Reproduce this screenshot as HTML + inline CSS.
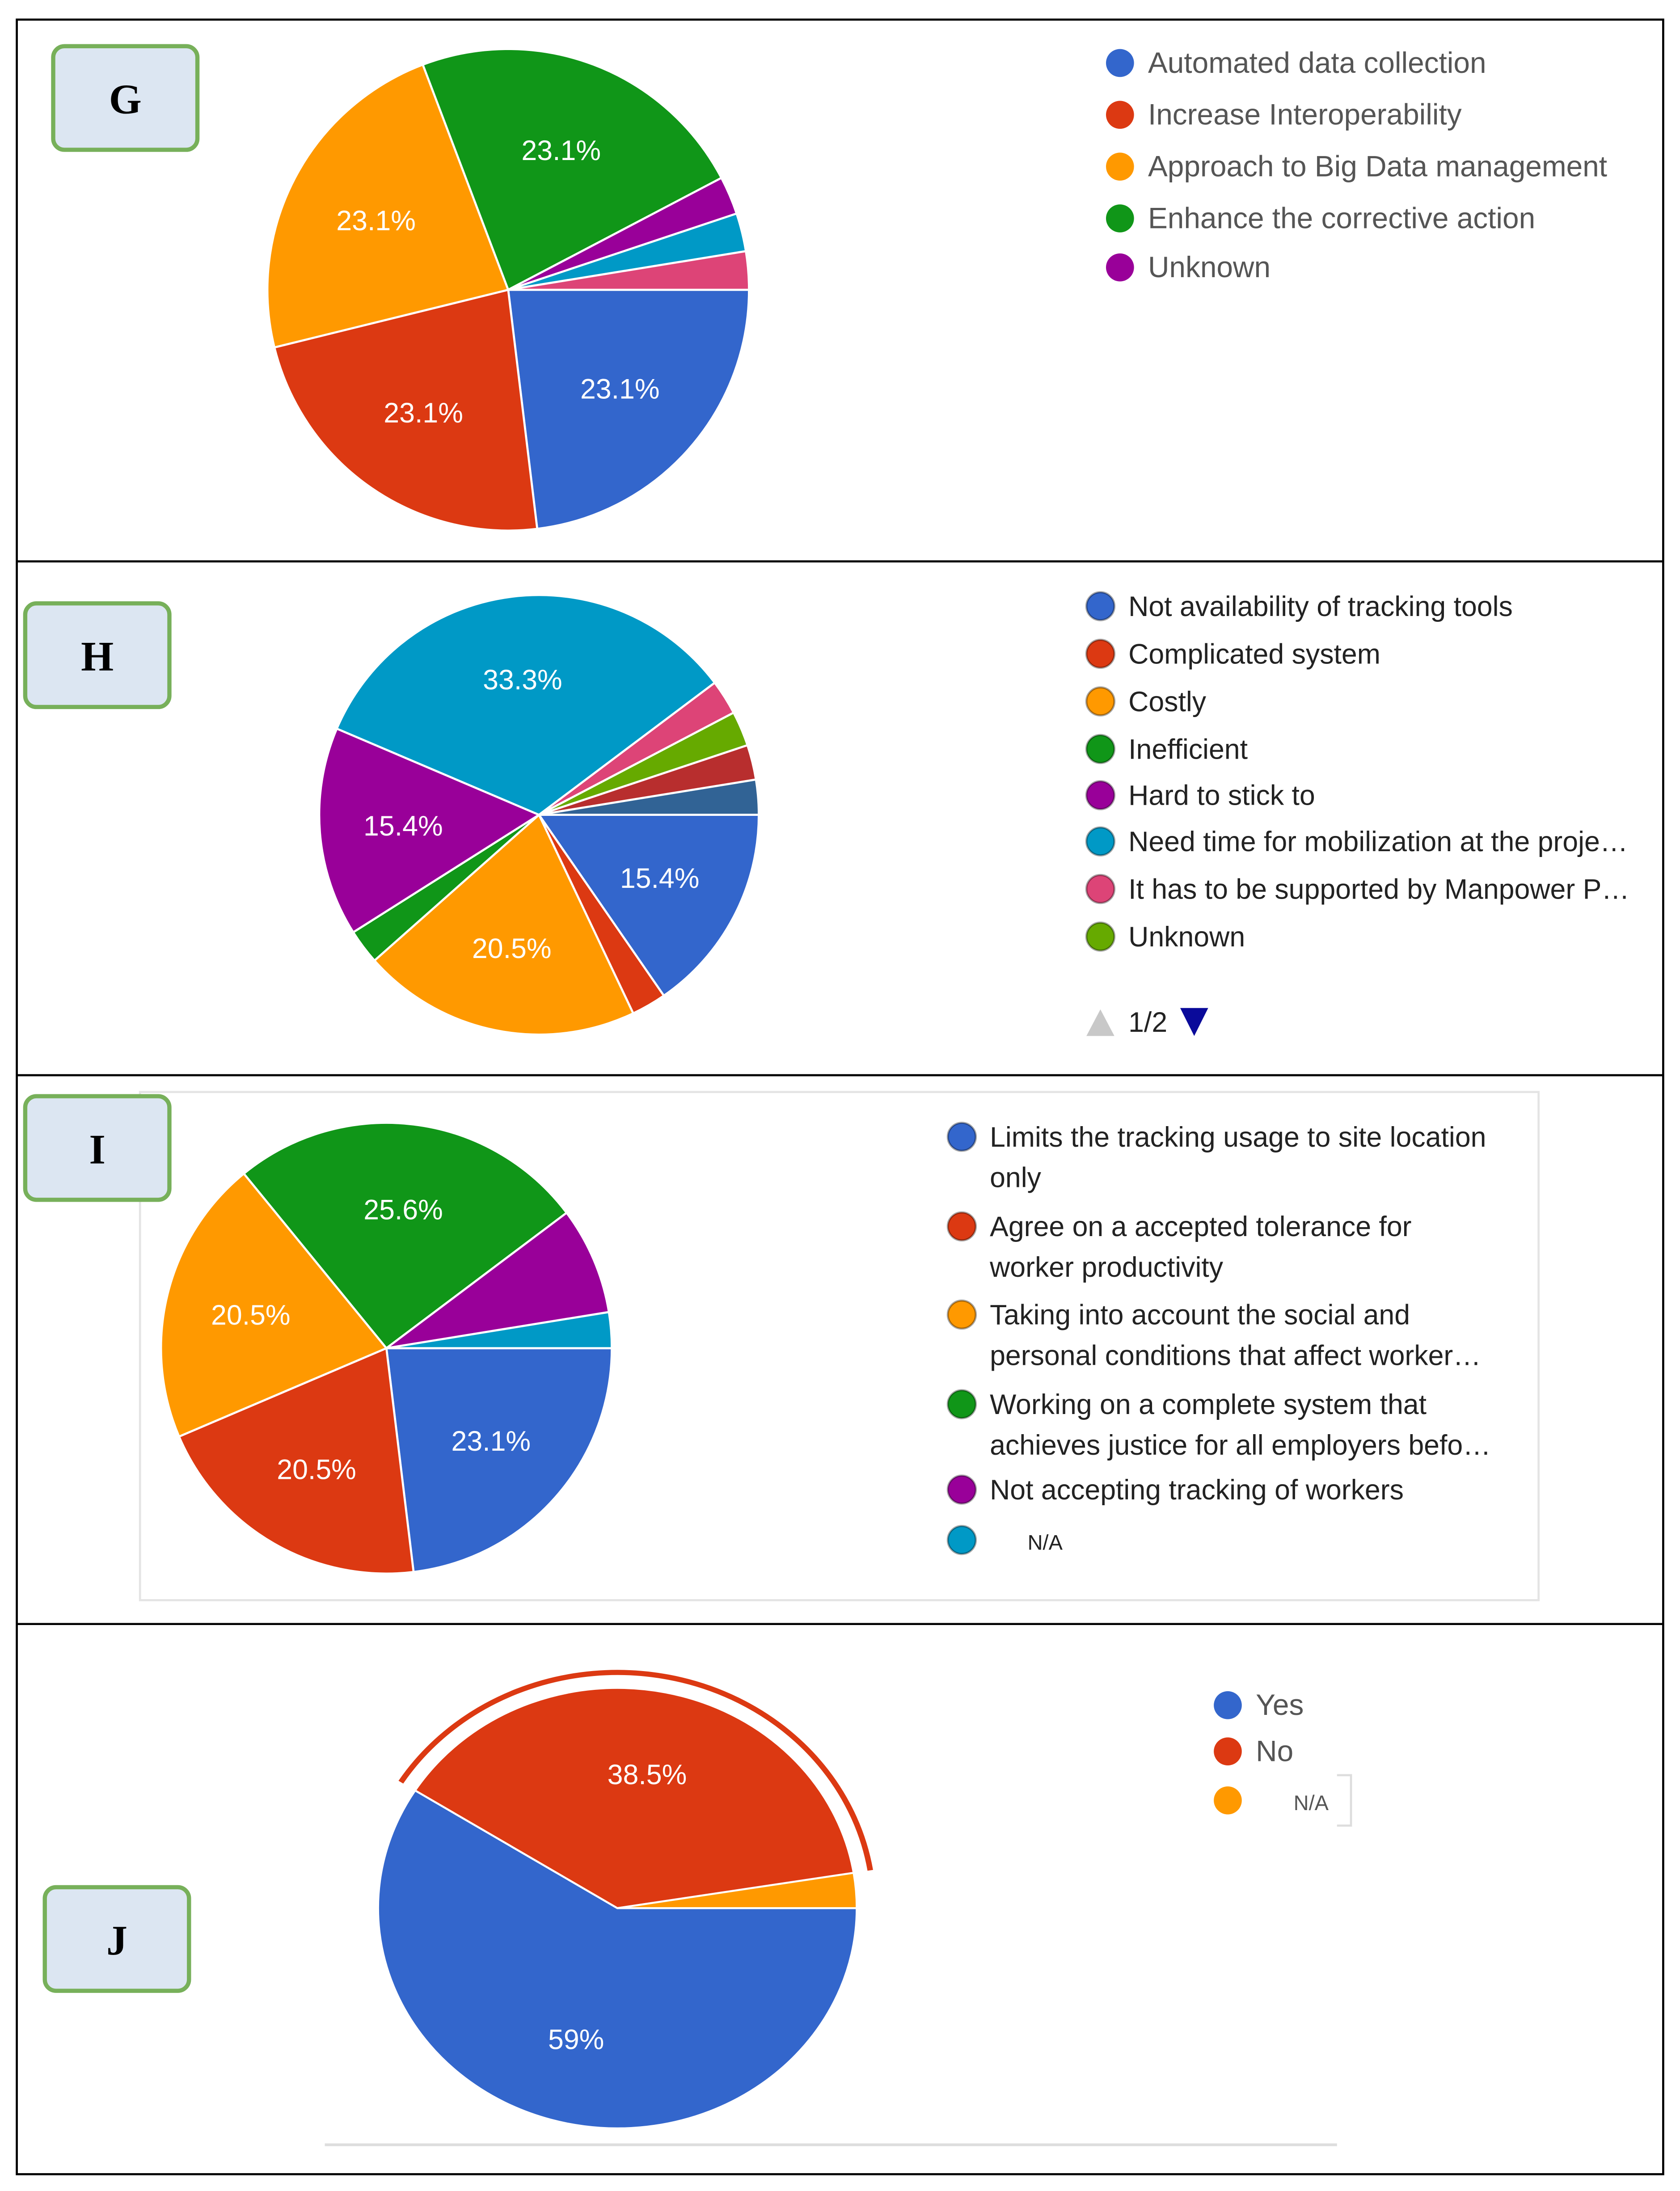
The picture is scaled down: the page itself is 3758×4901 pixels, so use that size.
<!DOCTYPE html>
<html><head><meta charset="utf-8"><style>
html,body{margin:0;padding:0;background:#fff;}
svg{display:block;}
text{font-family:"Liberation Sans",sans-serif;}
</style></head><body>
<svg id="fig" width="3758" height="4901" viewBox="0 0 1200 1565" xmlns="http://www.w3.org/2000/svg">
<rect x="12" y="14" width="1176" height="1539" fill="none" stroke="#000" stroke-width="1.5"/>
<line x1="12" y1="401" x2="1188" y2="401" stroke="#000" stroke-width="1.5"/>
<line x1="12" y1="768" x2="1188" y2="768" stroke="#000" stroke-width="1.5"/>
<line x1="12" y1="1160" x2="1188" y2="1160" stroke="#000" stroke-width="1.5"/>
<rect x="100" y="780" width="999" height="363" fill="none" stroke="#e4e4e4" stroke-width="1.5"/>
<line x1="232" y1="1532" x2="955" y2="1532" stroke="#ddd" stroke-width="2"/>
<g id="g-g"></g>
<g id="g-h"></g>
<g id="g-i"></g>
<g id="g-j"><g id="g-jp" transform="translate(0,109) scale(1,0.92)"></g></g>
</svg>
<script>
const NS="http://www.w3.org/2000/svg";
// Panel G
const gLabels=["Automated data collection","Increase Interoperability","Approach to Big Data management","Enhance the corrective action","Unknown"];
const gValues=[9,9,9,9,1,1,1];
const gColors=["#3366cc","#dc3912","#ff9900","#109618","#990099","#0099c6","#dd4477"];
// Panel H
const hLabels=["Not availability of tracking tools","Complicated system","Costly","Inefficient","Hard to stick to","Need time for mobilization at the proje\u2026","It has to be supported by Manpower P\u2026","Unknown"];
const hValues=[6,1,8,1,6,13,1,1,1,1];
const hColors=["#3366cc","#dc3912","#ff9900","#109618","#990099","#0099c6","#dd4477","#66aa00","#b82e2e","#316395"];
// Panel I
const iLabels=[["Limits the tracking usage to site location","only"],["Agree on a accepted tolerance for","worker productivity"],["Taking into account the social and","personal conditions that affect worker\u2026"],["Working on a complete system that","achieves justice for all employers befo\u2026"],["Not accepting tracking of workers"],["N/A"]];
const iValues=[9,8,8,10,3,1];
const iColors=["#3366cc","#dc3912","#ff9900","#109618","#990099","#0099c6"];
// Panel J
const jLabels=["Yes","No","N/A"];
const jValues=[23,15,1];
const jColors=["#3366cc","#dc3912","#ff9900"];

function el(tag,attrs,parent){const e=document.createElementNS(NS,tag);for(const k in attrs)e.setAttribute(k,attrs[k]);parent.appendChild(e);return e;}
function pt(cx,cy,r,a){return [cx+r*Math.cos(a),cy+r*Math.sin(a)];}
function pie(g,cx,cy,r,values,colors,minLabel,name,labelG,ys){
  labelG=labelG||g;ys=ys||1;
  const tot=values.reduce((a,b)=>a+b,0);let a0=0;
  values.forEach((v,i)=>{
    const a1=a0+v/tot*2*Math.PI;
    const p0=pt(cx,cy,r,a0),p1=pt(cx,cy,r,a1);
    const large=(a1-a0)>Math.PI?1:0;
    const p=el('path',{d:`M${cx},${cy}L${p0[0]},${p0[1]}A${r},${r} 0 ${large} 1 ${p1[0]},${p1[1]}Z`,fill:colors[i],stroke:'#fff','stroke-width':1.5},g);
    
    
    const pct=v/tot*100;
    if(pct>=minLabel){
      const m=(a0+a1)/2,lp=pt(cx,cy,r*0.62,m);
      const ly=ys===1?lp[1]:(cy+(lp[1]-cy)*ys+ (labelG===g?0:0));
      const t=el('text',{x:lp[0],y:(ys===1?lp[1]:lp[1]*ys+109)+7,'text-anchor':'middle','font-size':20,fill:'#fff'},labelG);
      t.textContent=(Math.round(pct*10)/10)+'%';
      
      
    }
    a0=a1;
  });
}
function badge(g,x,y,w,h,letter,name){
  const r=el('rect',{x:x,y:y,width:w,height:h,rx:8,fill:'#dce6f2',stroke:'#77b05a','stroke-width':3},g);
  
  
  const t=el('text',{x:x+w/2,y:y+h/2+11,'text-anchor':'middle','font-size':30,'font-weight':'bold',fill:'#000',style:'font-family:"Liberation Serif",serif'},g);
  t.textContent=letter;
  
  
}
function legend(g,x,ys,labels,colors,name,size,fill,outline){
  labels.forEach((lab,i)=>{
    const lines=Array.isArray(lab)?lab:[lab];
    const c=el('circle',{cx:x,cy:ys[i],r:10,fill:colors[i],stroke:outline?'rgba(0,0,0,0.35)':'none','stroke-width':1.5},g);
    
    
    lines.forEach((ln,k)=>{
      const small=ln==='N/A';
      const t=el('text',{x:x+(small?47:20),y:ys[i]+7+k*29,'font-size':small?15:size,fill:fill},g);
      t.textContent=ln;
      
      
    });
  });
}
const G=document.getElementById('g-g'),H=document.getElementById('g-h'),I=document.getElementById('g-i'),J=document.getElementById('g-j'),JP=document.getElementById('g-jp');
badge(G,38,33,103,74,'G','panel-g');
pie(G,363,207,172,gValues,gColors,10,'panel-g');
legend(G,800,[45,82,119,156,191],gLabels,gColors,'panel-g',21,'#555',false);

badge(H,18,431,103,74,'H','panel-h');
pie(H,385,582,157,hValues,hColors,10,'panel-h');
legend(H,786,[433,467,501,535,568,601,635,669],hLabels,hColors,'panel-h',20,'#222',true);
{const t1=el('polygon',{points:'776,740 796,740 786,721',fill:'#c8c8c8'},H);
const tx=el('text',{x:806,y:737,'font-size':20,fill:'#222'},H);tx.textContent='1/2';
const t2=el('polygon',{points:'843,720 863,720 853,740',fill:'#0a0a9a'},H);}

badge(I,18,783,103,74,'I','panel-i');
pie(I,276,963,161,iValues,iColors,10,'panel-i');
legend(I,687,[812,876,939,1003,1064,1100],iLabels,iColors,'panel-i',20,'#222',true);

badge(J,32,1348,103,74,'J','panel-j');
pie(JP,441,1363,171,jValues,jColors,10,'panel-j',J,0.92);
{const tot=jValues.reduce((a,b)=>a+b,0);const a0=jValues[0]/tot*2*Math.PI,a1=(jValues[0]+jValues[1])/tot*2*Math.PI;const R=183;
const p0=pt(441,1363,R,a0),p1=pt(441,1363,R,a1);
const arc=el('path',{d:`M${p0[0]},${p0[1]}A${R},${R} 0 0 1 ${p1[0]},${p1[1]}`,fill:'none',stroke:'#dc3912','stroke-width':4},JP);
}
legend(J,877,[1218,1251,1286],jLabels,jColors,'panel-j',21,'#555',false);
{const b=el('path',{d:'M955,1268 H965 V1304 H955',fill:'none',stroke:'#ddd','stroke-width':1.5},J);}
</script>
</body></html>
